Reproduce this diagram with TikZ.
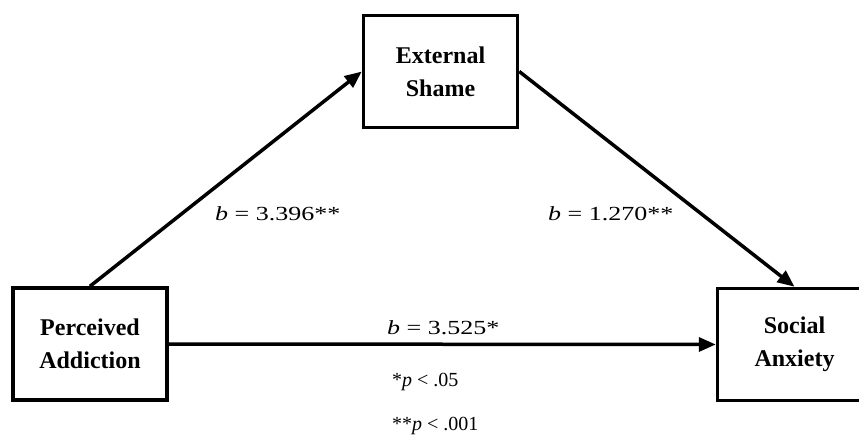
\documentclass[tikz,border=0pt]{standalone}
\usepackage{fontspec}
\setmainfont{Liberation Serif}
\newfontfamily\lblfont[FakeStretch=1.3]{Liberation Serif}
\usetikzlibrary{arrows.meta}
\tikzset{
  varbox/.style={draw=black, line width=3.5pt, fill=white, minimum width=154pt, minimum height=112pt,
    inner sep=0pt, align=center, font=\bfseries\fontsize{24}{33}\selectfont},
  patharrow/.style={line width=3.5pt, -{Triangle[length=17pt,width=14pt]}},
  coeflabel/.style={anchor=base west, inner sep=0pt, font=\lblfont\fontsize{20}{24}\selectfont},
  notelabel/.style={anchor=base west, inner sep=0pt, font=\fontsize{20}{24}\selectfont}
}
\begin{document}
\begin{tikzpicture}[x=1pt, y=-1pt]
\useasboundingbox (0,0) rectangle (859,435);
\clip (0,0) rectangle (859,435);
\node[varbox] (pa) at (90,344) {Perceived\\Addiction};
\node[varbox] (es) at (440.5,71.5) {External\\Shame};
\node[varbox] (sa) at (794.5,344.5) {Social\\Anxiety};
\draw[patharrow] (pa.north) -- (es.west);
\draw[patharrow] (es.east) -- (sa.north);
\draw[patharrow] (pa.east) -- (sa.west);
\node[coeflabel] (l1) at (215,221) {\textit{b} = 3.396**};
\node[coeflabel] (l2) at (548,221) {\textit{b} = 1.270**};
\node[coeflabel] (l3) at (387,335) {\textit{b} = 3.525*};
\node[notelabel] (n1) at (392,386) {*\textit{p} {\char"003C} .05};
\node[notelabel] (n2) at (392,430) {**\textit{p} {\char"003C} .001};
\end{tikzpicture}
\end{document}
